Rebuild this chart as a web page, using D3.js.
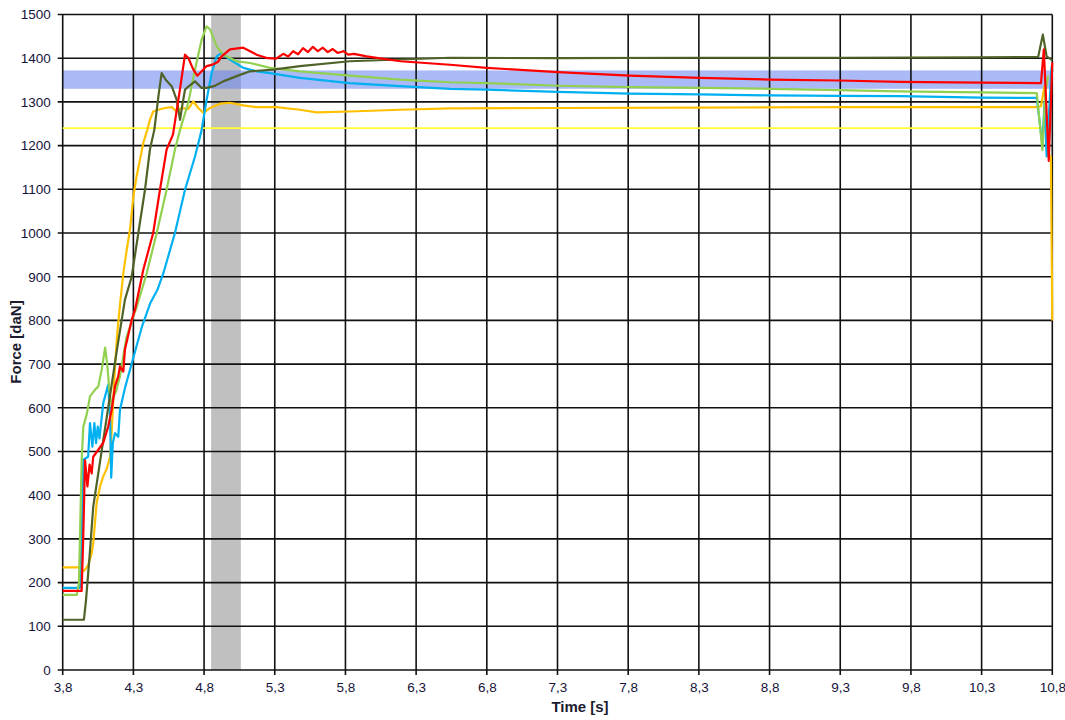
<!DOCTYPE html>
<html>
<head>
<meta charset="utf-8">
<script src="https://cdn.jsdelivr.net/npm/d3@7"></script>
<style>
  body { margin: 0; background: #fff; }
  svg { display: block; }
</style>
</head>
<body>
<div id="chart"></div>
<script>
// tick values
const timeTicks = [3.8, 4.3, 4.8, 5.3, 5.8, 6.3, 6.8, 7.3, 7.8, 8.3, 8.8, 9.3, 9.8, 10.3, 10.8];
const forceTicks = [0, 100, 200, 300, 400, 500, 600, 700, 800, 900, 1000, 1100, 1200, 1300, 1400, 1500];

// reference bands
const timeBand = [4.85, 5.06];
const forceBand = [1330, 1372];
const limitLine = [[3.8, 1240], [10.71, 1240]];

// measured force curves [time, force]
const oliveSeries = [[3.8,115],[3.95,115],[3.965,160],[3.99,260],[4.016,374],[4.18,725],[4.24,847],[4.288,900],[4.335,1000],[4.382,1099],[4.417,1191],[4.448,1236],[4.48,1320],[4.5,1366],[4.53,1350],[4.571,1336],[4.606,1305],[4.63,1259],[4.645,1290],[4.665,1328],[4.7,1338],[4.736,1347],[4.783,1332],[4.818,1332],[4.87,1336],[4.936,1347],[5.03,1359],[5.125,1370],[5.29,1374],[5.478,1382],[5.83,1393],[6.185,1397],[6.54,1401],[7.3,1400],[8.3,1401],[9.3,1401],[10.3,1402],[10.7,1403],[10.733,1454],[10.76,1404],[10.8,1395]];

const redSeries = [[3.8,181],[3.934,181],[3.945,300],[3.958,480],[3.975,420],[3.99,470],[4.005,450],[4.016,488],[4.052,504],[4.087,520],[4.122,557],[4.146,595],[4.17,649],[4.193,672],[4.205,695],[4.229,683],[4.24,733],[4.288,801],[4.311,824],[4.37,916],[4.44,1000],[4.488,1099],[4.535,1191],[4.58,1225],[4.63,1330],[4.665,1408],[4.688,1401],[4.724,1374],[4.752,1360],[4.783,1370],[4.818,1382],[4.865,1386],[4.9,1392],[4.924,1404],[4.983,1420],[5.077,1424],[5.172,1408],[5.25,1400],[5.31,1399],[5.36,1410],[5.395,1404],[5.43,1416],[5.465,1409],[5.5,1423],[5.535,1414],[5.57,1426],[5.605,1416],[5.64,1424],[5.675,1414],[5.71,1421],[5.745,1412],[5.785,1416],[5.82,1408],[5.86,1410],[5.95,1404],[6.188,1393],[6.54,1385],[6.8,1378],[7.305,1368],[7.81,1360],[8.307,1355],[8.8,1351],[9.295,1349],[9.72,1346],[10.3,1344],[10.72,1343],[10.74,1420],[10.775,1165],[10.8,1390]];

const greenSeries = [[3.8,172],[3.9,172],[3.915,200],[3.934,480],[3.946,557],[3.97,585],[3.993,626],[4.028,641],[4.052,649],[4.076,687],[4.1,738],[4.115,700],[4.13,640],[4.145,605],[4.16,625],[4.18,640],[4.205,672],[4.25,760],[4.3,810],[4.323,830],[4.394,908],[4.465,1000],[4.535,1099],[4.594,1191],[4.63,1236],[4.688,1298],[4.736,1374],[4.783,1443],[4.818,1473],[4.842,1466],[4.889,1427],[4.936,1408],[5.03,1393],[5.125,1389],[5.266,1378],[5.478,1370],[5.83,1360],[6.185,1351],[6.54,1345],[6.8,1343],[7.305,1337],[7.81,1334],[8.307,1332],[8.8,1330],[9.295,1327],[9.72,1324],[10.3,1322],[10.69,1320],[10.73,1190],[10.75,1320],[10.77,1360]];

const cyanSeries = [[3.8,188],[3.922,188],[3.935,300],[3.946,481],[3.98,488],[3.993,565],[4.01,511],[4.024,565],[4.036,519],[4.048,557],[4.06,530],[4.087,611],[4.122,653],[4.135,580],[4.143,440],[4.155,520],[4.17,542],[4.193,534],[4.205,595],[4.24,645],[4.3,715],[4.36,785],[4.42,840],[4.47,870],[4.512,908],[4.594,1000],[4.665,1099],[4.736,1175],[4.783,1236],[4.818,1305],[4.854,1366],[4.889,1404],[4.924,1412],[4.983,1397],[5.077,1378],[5.172,1370],[5.266,1366],[5.478,1355],[5.83,1343],[6.185,1336],[6.54,1330],[6.8,1328],[7.305,1323],[7.81,1319],[8.307,1317],[8.8,1315],[9.295,1314],[9.72,1313],[10.3,1310],[10.69,1309],[10.73,1202],[10.745,1300],[10.76,1175],[10.795,1381],[10.8,1370]];

const orangeSeries = [[3.8,235],[3.925,235],[3.94,225],[3.96,230],[3.98,240],[4.005,267],[4.016,290],[4.04,382],[4.064,420],[4.087,443],[4.111,460],[4.135,488],[4.146,542],[4.158,618],[4.17,695],[4.186,771],[4.205,835],[4.229,908],[4.253,962],[4.276,1008],[4.3,1084],[4.323,1130],[4.347,1168],[4.37,1206],[4.398,1236],[4.417,1259],[4.44,1278],[4.476,1282],[4.523,1286],[4.571,1288],[4.606,1278],[4.641,1286],[4.688,1284],[4.724,1301],[4.759,1286],[4.794,1275],[4.842,1286],[4.913,1296],[4.983,1298],[5.077,1292],[5.172,1288],[5.313,1288],[5.478,1282],[5.596,1276],[5.83,1278],[6.185,1282],[6.54,1285],[7.3,1286],[8.3,1287],[9.3,1288],[10.3,1288],[10.69,1288],[10.72,1290],[10.745,1336],[10.77,1180],[10.79,1175],[10.8,800]];

const W = 1065, H = 720;
const margin = {top: 14.5, right: 12.7, bottom: 50, left: 62.7};
const width = W - margin.left - margin.right,
      height = H - margin.top - margin.bottom;

const svg = d3.select("#chart").append("svg")
    .attr("width", W)
    .attr("height", H);

const g = svg.append("g")
    .attr("transform", `translate(${margin.left},${margin.top})`);

const x = d3.scaleLinear().domain([3.8, 10.8]).range([0, width]);
const y = d3.scaleLinear().domain([0, 1500]).range([height, 0]);

// gray time window
g.append("rect")
    .attr("x", x(timeBand[0]))
    .attr("y", 0)
    .attr("width", x(timeBand[1]) - x(timeBand[0]))
    .attr("height", height)
    .attr("fill", "#c0c0c0");

// blue tolerance band
g.append("rect")
    .attr("x", 0)
    .attr("y", y(forceBand[1]))
    .attr("width", width)
    .attr("height", y(forceBand[0]) - y(forceBand[1]))
    .attr("fill", "rgb(100,130,240)")
    .attr("fill-opacity", 0.55);

// grid
g.append("g").selectAll("line")
    .data(forceTicks)
    .enter().append("line")
    .attr("x1", -5).attr("x2", width)
    .attr("y1", d => y(d)).attr("y2", d => y(d))
    .attr("stroke", "#111").attr("stroke-width", 1.6);

g.append("g").selectAll("line")
    .data(timeTicks)
    .enter().append("line")
    .attr("x1", d => x(d)).attr("x2", d => x(d))
    .attr("y1", 0).attr("y2", height + 5)
    .attr("stroke", "#111").attr("stroke-width", 1.6);

// axes (labels only, lines drawn by grid)
const fmt = d => d3.format(".1f")(d).replace(".", ",");

const xAxis = g.append("g")
    .attr("transform", `translate(0,${height})`)
    .call(d3.axisBottom(x).tickValues(timeTicks).tickFormat(fmt).tickSize(0).tickPadding(12));
const yAxis = g.append("g")
    .call(d3.axisLeft(y).tickValues(forceTicks).tickFormat(d3.format("d")).tickSize(0).tickPadding(12));

[xAxis, yAxis].forEach(a => {
    a.select(".domain").remove();
    a.selectAll("text")
     .style("font-family", "'Liberation Sans', Arial, sans-serif")
     .style("font-size", "13.5px")
     .attr("fill", "#14143a");
});

// limit line
const line = d3.line().x(d => x(d[0])).y(d => y(d[1]));

g.append("path")
    .datum(limitLine)
    .attr("d", line)
    .attr("fill", "none")
    .attr("stroke", "#ffff33")
    .attr("stroke-width", 1.6);

const series = [
    {data: orangeSeries, color: "#ffc000"},
    {data: cyanSeries, color: "#00b0f0"},
    {data: greenSeries, color: "#92d050"},
    {data: oliveSeries, color: "#4f6228"},
    {data: redSeries, color: "#ff0000"}
];

g.append("g").selectAll("path")
    .data(series)
    .enter().append("path")
    .attr("d", d => line(d.data))
    .attr("fill", "none")
    .attr("stroke", d => d.color)
    .attr("stroke-width", 2.2)
    .attr("stroke-linejoin", "round");

// axis titles
svg.append("text")
    .attr("x", 580).attr("y", 712)
    .attr("text-anchor", "middle")
    .style("font-family", "'Liberation Sans', Arial, sans-serif")
    .style("font-size", "15px")
    .style("font-weight", "bold")
    .attr("fill", "#1c1c30")
    .text("Time [s]");

svg.append("text")
    .attr("transform", "translate(21,342) rotate(-90)")
    .attr("text-anchor", "middle")
    .style("font-family", "'Liberation Sans', Arial, sans-serif")
    .style("font-size", "15px")
    .style("font-weight", "bold")
    .attr("fill", "#1c1c30")
    .text("Force [daN]");
</script>
</body>
</html>
